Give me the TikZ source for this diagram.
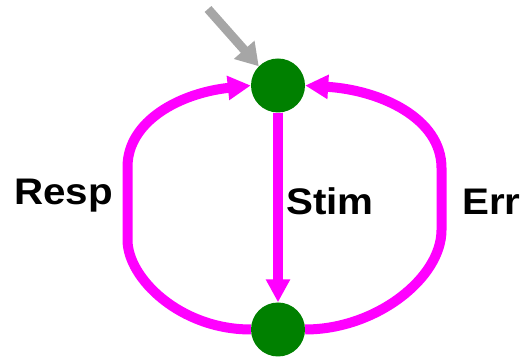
\documentclass[tikz,border=0pt]{standalone}
\usepackage{fontspec}
\setmainfont{Liberation Sans}
\usetikzlibrary{arrows.meta}
\definecolor{mag}{RGB}{255,0,255}
\definecolor{dgreen}{RGB}{0,128,0}
\definecolor{gr}{RGB}{166,166,166}
\newcommand{\widetxt}[1]{\scalebox{1.09}[1]{#1}}
\begin{document}
\begin{tikzpicture}[x=1pt,y=1pt,
  state/.style={circle,fill=dgreen,draw=none,minimum size=54pt,inner sep=0pt},
  link/.style={draw=mag,line width=10pt,-{Triangle[length=23pt,width=23pt]}},
  lbl/.style={font=\fontsize{37}{40}\selectfont\bfseries,anchor=base west,inner sep=0pt}]
\useasboundingbox (0,0) rectangle (524,358);
\node[state] (t) at (278,272.5) {};
\node[state] (b) at (278,28.5) {};
\coordinate (g) at (208,349);
\draw[draw=gr,line width=9pt,-{Triangle[length=22pt,width=26pt]}] (g) -- (t.135);
\draw[link] (t.south) -- (b.north);
\draw[link] (b.west) .. controls (180,28.5) and (127.5,80) .. (127.5,118) -- (127.5,191)
  .. controls (127.5,237) and (180,265) .. (t.west);
\draw[link] (b.east) .. controls (376,28.5) and (441.5,80) .. (441.5,128) -- (441.5,190)
  .. controls (441.5,240) and (380,268) .. (t.east);
\node[lbl] (resp) at (14,153) {\widetxt{Resp}};
\node[lbl] (stim) at (286,143) {\widetxt{Stim}};
\node[lbl] (err) at (462,143) {\widetxt{Err}};
\end{tikzpicture}
\end{document}
